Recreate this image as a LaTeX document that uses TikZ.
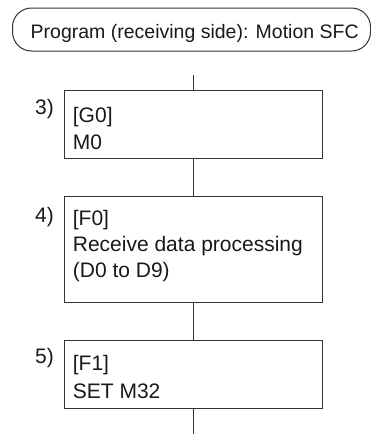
\documentclass[tikz,border=0pt]{standalone}
\usepackage{fontspec}
\setmainfont{Liberation Sans}
\begin{document}
\begin{tikzpicture}[x=1pt,y=-1pt,
  linecol/.style={line width=1pt, draw=black!80},
  stepbox/.style={linecol, rectangle, inner sep=0pt, minimum width=258.5pt},
  titlebox/.style={linecol, rectangle, rounded corners=19pt, inner sep=0pt, minimum width=358pt, minimum height=43pt},
  txt/.style={inner sep=0pt, anchor=base west, font=\fontsize{21}{26}\selectfont, text=black!90},
  titletxt/.style={inner sep=0pt, anchor=base west, font=\fontsize{19.5}{24}\selectfont, text=black!90}]
\useasboundingbox (0,0) rectangle (371,434);
% title
\node[titlebox] (title) at (191.5,29.5) {};
\node[titletxt] (titletext) at (30.5,38.3) {Program (receiving side): Motion SFC};
% steps
\node[stepbox, minimum height=68pt] (b1) at (193.25,124) {};
\node[stepbox, minimum height=106pt] (b2) at (193.25,249) {};
\node[stepbox, minimum height=68pt] (b3) at (193.25,374) {};
% connectors
\coordinate (top) at (193.25,75);
\coordinate (bot) at (193.25,434);
\draw[linecol] (top) -- (b1.north);
\draw[linecol] (b1.south) -- (b2.north);
\draw[linecol] (b2.south) -- (b3.north);
\draw[linecol] (b3.south) -- (bot);
% numbers
\node[txt] (n3) at (35,114) {3)};
\node[txt] (n4) at (35,222.5) {4)};
\node[txt] (n5) at (35,363) {5)};
% box texts
\node[txt] (t1a) at (72.7,122) {[G0]};
\node[txt] (t1b) at (72.7,149) {M0};
\node[txt] (t2a) at (72.7,225.5) {[F0]};
\node[txt] (t2b) at (72.7,251.7) {Receive data processing};
\node[txt] (t2c) at (72.7,277) {(D0 to D9)};
\node[txt] (t3a) at (72.7,370.5) {[F1]};
\node[txt] (t3b) at (72.7,398) {SET M32};
\end{tikzpicture}
\end{document}
